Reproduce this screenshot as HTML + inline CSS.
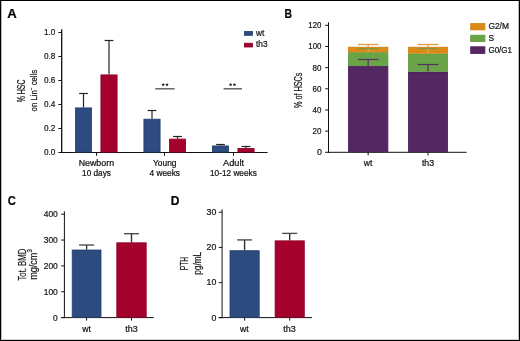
<!DOCTYPE html>
<html><head><meta charset="utf-8"><style>
html,body{margin:0;padding:0;background:#fff;width:520px;height:341px;overflow:hidden;}
svg{display:block;will-change:transform;}
text{font-family:"Liberation Sans",sans-serif;stroke:#141414;stroke-width:0.22px;}
</style></head><body>
<svg width="520" height="341" viewBox="0 0 520 341">
<rect x="0" y="0" width="520" height="341" fill="#fff"/>
<text x="7.30" y="18.20" font-size="12" textLength="9.5" lengthAdjust="spacingAndGlyphs" font-weight="bold" fill="#000">A</text>
<line x1="61.70" y1="29.30" x2="61.70" y2="153.10" stroke="#111" stroke-width="1.3"/>
<line x1="61.10" y1="152.50" x2="267.60" y2="152.50" stroke="#111" stroke-width="1.0"/>
<line x1="58.40" y1="152.50" x2="61.70" y2="152.50" stroke="#111" stroke-width="1.0"/>
<text x="55.40" y="155.45" font-size="9.2" text-anchor="end" textLength="11.4" lengthAdjust="spacingAndGlyphs" fill="#141414">0.0</text>
<line x1="58.40" y1="128.50" x2="61.70" y2="128.50" stroke="#111" stroke-width="1.0"/>
<text x="55.40" y="131.45" font-size="9.2" text-anchor="end" textLength="11.4" lengthAdjust="spacingAndGlyphs" fill="#141414">0.2</text>
<line x1="58.40" y1="104.50" x2="61.70" y2="104.50" stroke="#111" stroke-width="1.0"/>
<text x="55.40" y="107.45" font-size="9.2" text-anchor="end" textLength="11.4" lengthAdjust="spacingAndGlyphs" fill="#141414">0.4</text>
<line x1="58.40" y1="80.50" x2="61.70" y2="80.50" stroke="#111" stroke-width="1.0"/>
<text x="55.40" y="83.45" font-size="9.2" text-anchor="end" textLength="11.4" lengthAdjust="spacingAndGlyphs" fill="#141414">0.6</text>
<line x1="58.40" y1="56.50" x2="61.70" y2="56.50" stroke="#111" stroke-width="1.0"/>
<text x="55.40" y="59.45" font-size="9.2" text-anchor="end" textLength="11.4" lengthAdjust="spacingAndGlyphs" fill="#141414">0.8</text>
<line x1="58.40" y1="32.50" x2="61.70" y2="32.50" stroke="#111" stroke-width="1.0"/>
<text x="55.40" y="35.45" font-size="9.2" text-anchor="end" textLength="11.4" lengthAdjust="spacingAndGlyphs" fill="#141414">1.0</text>
<line x1="83.50" y1="93.50" x2="83.50" y2="107.50" stroke="#262626" stroke-width="1.2"/>
<line x1="79.10" y1="93.50" x2="87.90" y2="93.50" stroke="#262626" stroke-width="1.2"/>
<line x1="109.00" y1="40.50" x2="109.00" y2="74.50" stroke="#262626" stroke-width="1.2"/>
<line x1="104.60" y1="40.50" x2="113.40" y2="40.50" stroke="#262626" stroke-width="1.2"/>
<rect x="75.40" y="107.90" width="16.20" height="44.20" fill="#2e4b7f" stroke="#233e70" stroke-width="0.8"/>
<rect x="100.90" y="74.90" width="16.20" height="77.20" fill="#a4022c" stroke="#900126" stroke-width="0.8"/>
<line x1="96.50" y1="152.50" x2="96.50" y2="155.80" stroke="#111" stroke-width="1.0"/>
<line x1="152.00" y1="110.50" x2="152.00" y2="118.78" stroke="#262626" stroke-width="1.2"/>
<line x1="147.60" y1="110.50" x2="156.40" y2="110.50" stroke="#262626" stroke-width="1.2"/>
<line x1="177.50" y1="136.50" x2="177.50" y2="138.70" stroke="#262626" stroke-width="1.2"/>
<line x1="173.10" y1="136.50" x2="181.90" y2="136.50" stroke="#262626" stroke-width="1.2"/>
<rect x="143.90" y="119.18" width="16.20" height="32.92" fill="#2e4b7f" stroke="#233e70" stroke-width="0.8"/>
<rect x="169.40" y="139.10" width="16.20" height="13.00" fill="#a4022c" stroke="#900126" stroke-width="0.8"/>
<line x1="164.50" y1="152.50" x2="164.50" y2="155.80" stroke="#111" stroke-width="1.0"/>
<line x1="220.50" y1="144.50" x2="220.50" y2="145.54" stroke="#262626" stroke-width="1.2"/>
<line x1="216.10" y1="144.50" x2="224.90" y2="144.50" stroke="#262626" stroke-width="1.2"/>
<line x1="246.00" y1="146.50" x2="246.00" y2="148.00" stroke="#262626" stroke-width="1.2"/>
<line x1="241.60" y1="146.50" x2="250.40" y2="146.50" stroke="#262626" stroke-width="1.2"/>
<rect x="212.40" y="145.94" width="16.20" height="6.16" fill="#2e4b7f" stroke="#233e70" stroke-width="0.8"/>
<rect x="237.90" y="148.40" width="16.20" height="3.70" fill="#a4022c" stroke="#900126" stroke-width="0.8"/>
<line x1="233.50" y1="152.50" x2="233.50" y2="155.80" stroke="#111" stroke-width="1.0"/>
<text x="96.40" y="165.80" font-size="8.3" text-anchor="middle" textLength="35.4" lengthAdjust="spacingAndGlyphs" fill="#141414">Newborn</text>
<text x="96.50" y="175.60" font-size="8.3" text-anchor="middle" textLength="28.9" lengthAdjust="spacingAndGlyphs" fill="#141414">10 days</text>
<text x="164.75" y="165.80" font-size="8.3" text-anchor="middle" textLength="23.5" lengthAdjust="spacingAndGlyphs" fill="#141414">Young</text>
<text x="164.75" y="175.60" font-size="8.3" text-anchor="middle" textLength="30.5" lengthAdjust="spacingAndGlyphs" fill="#141414">4 weeks</text>
<text x="233.50" y="165.80" font-size="8.3" text-anchor="middle" textLength="21" lengthAdjust="spacingAndGlyphs" fill="#141414">Adult</text>
<text x="233.40" y="175.60" font-size="8.3" text-anchor="middle" textLength="46.75" lengthAdjust="spacingAndGlyphs" fill="#141414">10-12 weeks</text>
<line x1="155.30" y1="88.80" x2="174.60" y2="88.80" stroke="#5a5a5a" stroke-width="1.4"/>
<polygon points="163.20,82.80 163.70,84.01 165.01,84.11 164.01,84.96 164.32,86.24 163.20,85.56 162.08,86.24 162.39,84.96 161.39,84.11 162.70,84.01" fill="#222"/>
<polygon points="167.00,82.80 167.50,84.01 168.81,84.11 167.81,84.96 168.12,86.24 167.00,85.56 165.88,86.24 166.19,84.96 165.19,84.11 166.50,84.01" fill="#222"/>
<line x1="223.60" y1="88.80" x2="242.00" y2="88.80" stroke="#5a5a5a" stroke-width="1.4"/>
<polygon points="230.60,82.80 231.10,84.01 232.41,84.11 231.41,84.96 231.72,86.24 230.60,85.56 229.48,86.24 229.79,84.96 228.79,84.11 230.10,84.01" fill="#222"/>
<polygon points="234.50,82.80 235.00,84.01 236.31,84.11 235.31,84.96 235.62,86.24 234.50,85.56 233.38,86.24 233.69,84.96 232.69,84.11 234.00,84.01" fill="#222"/>
<rect x="244.40" y="31.40" width="8.20" height="3.90" fill="#2e4b7f" stroke="#233e70" stroke-width="0.8"/>
<rect x="244.40" y="43.20" width="8.20" height="3.80" fill="#a4022c" stroke="#900126" stroke-width="0.8"/>
<text x="256.00" y="36.00" font-size="8.3" fill="#141414">wt</text>
<text x="256.00" y="47.40" font-size="8.3" fill="#141414">th3</text>
<text transform="translate(25.4,90.9) rotate(-90)" font-size="10.6" text-anchor="middle" textLength="22.6" lengthAdjust="spacingAndGlyphs" fill="#141414">% HSC</text>
<text transform="translate(36.6,90.6) rotate(-90)" font-size="8.4" text-anchor="middle" textLength="41.6" lengthAdjust="spacingAndGlyphs" fill="#141414">on Lin<tspan font-size="5" dy="-3.2">−</tspan><tspan dy="3.2"> cells</tspan></text>
<text x="284.50" y="17.90" font-size="12" textLength="7.5" lengthAdjust="spacingAndGlyphs" font-weight="bold" fill="#000">B</text>
<line x1="328.50" y1="22.30" x2="328.50" y2="152.90" stroke="#111" stroke-width="1.0"/>
<line x1="327.90" y1="152.30" x2="466.60" y2="152.30" stroke="#111" stroke-width="1.0"/>
<line x1="325.20" y1="152.30" x2="328.50" y2="152.30" stroke="#111" stroke-width="1.0"/>
<text x="322.00" y="155.25" font-size="9.2" text-anchor="end" textLength="5.0" lengthAdjust="spacingAndGlyphs" fill="#141414">0</text>
<line x1="325.20" y1="131.13" x2="328.50" y2="131.13" stroke="#111" stroke-width="1.0"/>
<text x="321.50" y="134.08" font-size="9.2" text-anchor="end" textLength="8.9" lengthAdjust="spacingAndGlyphs" fill="#141414">20</text>
<line x1="325.20" y1="109.97" x2="328.50" y2="109.97" stroke="#111" stroke-width="1.0"/>
<text x="321.50" y="112.92" font-size="9.2" text-anchor="end" textLength="8.9" lengthAdjust="spacingAndGlyphs" fill="#141414">40</text>
<line x1="325.20" y1="88.80" x2="328.50" y2="88.80" stroke="#111" stroke-width="1.0"/>
<text x="321.50" y="91.75" font-size="9.2" text-anchor="end" textLength="8.9" lengthAdjust="spacingAndGlyphs" fill="#141414">60</text>
<line x1="325.20" y1="67.63" x2="328.50" y2="67.63" stroke="#111" stroke-width="1.0"/>
<text x="321.50" y="70.58" font-size="9.2" text-anchor="end" textLength="8.9" lengthAdjust="spacingAndGlyphs" fill="#141414">80</text>
<line x1="325.20" y1="46.47" x2="328.50" y2="46.47" stroke="#111" stroke-width="1.0"/>
<text x="321.50" y="49.42" font-size="9.2" text-anchor="end" textLength="13.2" lengthAdjust="spacingAndGlyphs" fill="#141414">100</text>
<line x1="325.20" y1="25.30" x2="328.50" y2="25.30" stroke="#111" stroke-width="1.0"/>
<text x="321.50" y="28.25" font-size="9.2" text-anchor="end" textLength="13.2" lengthAdjust="spacingAndGlyphs" fill="#141414">120</text>
<rect x="348.40" y="66.20" width="39.50" height="85.70" fill="#542763" stroke="#461d54" stroke-width="0.8"/>
<rect x="348.40" y="52.70" width="39.50" height="12.70" fill="#69a546" stroke="#5c963c" stroke-width="0.8"/>
<rect x="348.40" y="47.20" width="39.50" height="4.70" fill="#dc8a17" stroke="#cf7e10" stroke-width="0.8"/>
<line x1="368.15" y1="59.50" x2="368.15" y2="65.80" stroke="#5a2d64" stroke-width="1.2"/>
<line x1="357.85" y1="59.50" x2="378.45" y2="59.50" stroke="#5a2d64" stroke-width="1.2"/>
<line x1="368.15" y1="48.50" x2="368.15" y2="52.30" stroke="#7a9a40" stroke-width="1.2"/>
<line x1="357.85" y1="48.50" x2="378.45" y2="48.50" stroke="#7a9a40" stroke-width="1.2"/>
<line x1="368.15" y1="49.10" x2="368.15" y2="52.30" stroke="#f2a94a" stroke-width="1.2"/>
<line x1="368.15" y1="44.50" x2="368.15" y2="46.80" stroke="#e3963a" stroke-width="1.2"/>
<line x1="357.85" y1="44.50" x2="378.45" y2="44.50" stroke="#e3963a" stroke-width="1.2"/>
<line x1="368.15" y1="152.30" x2="368.15" y2="155.30" stroke="#111" stroke-width="1.0"/>
<rect x="408.40" y="72.00" width="39.20" height="79.90" fill="#542763" stroke="#461d54" stroke-width="0.8"/>
<rect x="408.40" y="54.00" width="39.20" height="17.20" fill="#69a546" stroke="#5c963c" stroke-width="0.8"/>
<rect x="408.40" y="47.20" width="39.20" height="6.00" fill="#dc8a17" stroke="#cf7e10" stroke-width="0.8"/>
<line x1="428.00" y1="64.50" x2="428.00" y2="71.60" stroke="#5a2d64" stroke-width="1.2"/>
<line x1="417.70" y1="64.50" x2="438.30" y2="64.50" stroke="#5a2d64" stroke-width="1.2"/>
<line x1="428.00" y1="48.50" x2="428.00" y2="53.60" stroke="#7a9a40" stroke-width="1.2"/>
<line x1="417.70" y1="48.50" x2="438.30" y2="48.50" stroke="#7a9a40" stroke-width="1.2"/>
<line x1="428.00" y1="49.10" x2="428.00" y2="53.60" stroke="#f2a94a" stroke-width="1.2"/>
<line x1="428.00" y1="44.50" x2="428.00" y2="46.80" stroke="#e3963a" stroke-width="1.2"/>
<line x1="417.70" y1="44.50" x2="438.30" y2="44.50" stroke="#e3963a" stroke-width="1.2"/>
<line x1="428.00" y1="152.30" x2="428.00" y2="155.30" stroke="#111" stroke-width="1.0"/>
<text x="368.00" y="165.80" font-size="8.3" text-anchor="middle" textLength="8.6" lengthAdjust="spacingAndGlyphs" fill="#141414">wt</text>
<text x="428.00" y="165.80" font-size="8.3" text-anchor="middle" textLength="12.2" lengthAdjust="spacingAndGlyphs" fill="#141414">th3</text>
<rect x="470.70" y="23.60" width="14.20" height="6.30" fill="#dc8a17" stroke="#cf7e10" stroke-width="0.8"/>
<rect x="470.70" y="35.20" width="14.20" height="6.30" fill="#69a546" stroke="#5c963c" stroke-width="0.8"/>
<rect x="470.70" y="46.80" width="14.20" height="6.70" fill="#542763" stroke="#461d54" stroke-width="0.8"/>
<text x="488.40" y="29.30" font-size="8.3" textLength="20.6" lengthAdjust="spacingAndGlyphs" fill="#141414">G2/M</text>
<text x="488.40" y="41.10" font-size="8.3" fill="#141414">S</text>
<text x="488.40" y="53.20" font-size="8.3" textLength="23.7" lengthAdjust="spacingAndGlyphs" fill="#141414">G0/G1</text>
<text transform="translate(301.8,90.3) rotate(-90)" font-size="10.8" text-anchor="middle" textLength="35.5" lengthAdjust="spacingAndGlyphs" fill="#141414">% of HSCs</text>
<text x="7.80" y="205.20" font-size="12.8" textLength="8.1" lengthAdjust="spacingAndGlyphs" font-weight="bold" fill="#000">C</text>
<line x1="64.40" y1="211.40" x2="64.40" y2="318.20" stroke="#111" stroke-width="1.0"/>
<line x1="61.50" y1="317.60" x2="153.80" y2="317.60" stroke="#111" stroke-width="1.0"/>
<line x1="61.20" y1="317.60" x2="64.40" y2="317.60" stroke="#111" stroke-width="1.0"/>
<text x="57.80" y="320.55" font-size="9.2" text-anchor="end" textLength="4.7" lengthAdjust="spacingAndGlyphs" fill="#141414">0</text>
<line x1="61.20" y1="291.75" x2="64.40" y2="291.75" stroke="#111" stroke-width="1.0"/>
<text x="57.80" y="294.55" font-size="9.2" text-anchor="end" textLength="14.1" lengthAdjust="spacingAndGlyphs" fill="#141414">100</text>
<line x1="61.20" y1="265.90" x2="64.40" y2="265.90" stroke="#111" stroke-width="1.0"/>
<text x="57.80" y="268.55" font-size="9.2" text-anchor="end" textLength="14.1" lengthAdjust="spacingAndGlyphs" fill="#141414">200</text>
<line x1="61.20" y1="240.05" x2="64.40" y2="240.05" stroke="#111" stroke-width="1.0"/>
<text x="57.80" y="242.55" font-size="9.2" text-anchor="end" textLength="14.1" lengthAdjust="spacingAndGlyphs" fill="#141414">300</text>
<line x1="61.20" y1="214.20" x2="64.40" y2="214.20" stroke="#111" stroke-width="1.0"/>
<text x="57.80" y="216.55" font-size="9.2" text-anchor="end" textLength="14.1" lengthAdjust="spacingAndGlyphs" fill="#141414">400</text>
<line x1="86.60" y1="245.01" x2="86.60" y2="249.61" stroke="#2e2e2e" stroke-width="1.35"/>
<line x1="79.10" y1="245.01" x2="94.10" y2="245.01" stroke="#4a4a4a" stroke-width="1.35"/>
<rect x="72.20" y="250.01" width="28.80" height="67.19" fill="#2e4b7f" stroke="#233e70" stroke-width="0.8"/>
<line x1="86.60" y1="317.60" x2="86.60" y2="320.60" stroke="#111" stroke-width="1.0"/>
<line x1="131.50" y1="233.70" x2="131.50" y2="242.41" stroke="#2e2e2e" stroke-width="1.35"/>
<line x1="124.00" y1="233.70" x2="139.00" y2="233.70" stroke="#4a4a4a" stroke-width="1.35"/>
<rect x="116.80" y="242.81" width="29.40" height="74.39" fill="#a4022c" stroke="#900126" stroke-width="0.8"/>
<line x1="131.50" y1="317.60" x2="131.50" y2="320.60" stroke="#111" stroke-width="1.0"/>
<text x="86.50" y="331.80" font-size="8.3" text-anchor="middle" textLength="8.7" lengthAdjust="spacingAndGlyphs" fill="#141414">wt</text>
<text x="131.60" y="331.80" font-size="8.3" text-anchor="middle" textLength="12.5" lengthAdjust="spacingAndGlyphs" fill="#141414">th3</text>
<text transform="translate(25.5,264.6) rotate(-90)" font-size="10.8" text-anchor="middle" textLength="31.8" lengthAdjust="spacingAndGlyphs" fill="#141414">Tot. BMD</text>
<text transform="translate(36.9,264.5) rotate(-90)" font-size="10.2" text-anchor="middle" textLength="30.6" lengthAdjust="spacingAndGlyphs" fill="#141414">mg/cm<tspan font-size="6.8" dy="-4.8">3</tspan></text>
<text x="170.70" y="205.00" font-size="12" textLength="8.7" lengthAdjust="spacingAndGlyphs" font-weight="bold" fill="#000">D</text>
<line x1="222.10" y1="209.30" x2="222.10" y2="318.20" stroke="#111" stroke-width="1.0"/>
<line x1="218.50" y1="317.60" x2="312.00" y2="317.60" stroke="#111" stroke-width="1.0"/>
<line x1="218.80" y1="317.60" x2="222.10" y2="317.60" stroke="#111" stroke-width="1.0"/>
<text x="216.30" y="320.55" font-size="9.2" text-anchor="end" textLength="4.9" lengthAdjust="spacingAndGlyphs" fill="#141414">0</text>
<line x1="218.80" y1="282.67" x2="222.10" y2="282.67" stroke="#111" stroke-width="1.0"/>
<text x="216.30" y="285.32" font-size="9.2" text-anchor="end" textLength="9.8" lengthAdjust="spacingAndGlyphs" fill="#141414">10</text>
<line x1="218.80" y1="247.43" x2="222.10" y2="247.43" stroke="#111" stroke-width="1.0"/>
<text x="216.30" y="250.08" font-size="9.2" text-anchor="end" textLength="9.8" lengthAdjust="spacingAndGlyphs" fill="#141414">20</text>
<line x1="218.80" y1="212.20" x2="222.10" y2="212.20" stroke="#111" stroke-width="1.0"/>
<text x="216.30" y="214.85" font-size="9.2" text-anchor="end" textLength="9.8" lengthAdjust="spacingAndGlyphs" fill="#141414">30</text>
<line x1="244.60" y1="239.91" x2="244.60" y2="250.30" stroke="#2e2e2e" stroke-width="1.35"/>
<line x1="237.10" y1="239.91" x2="252.10" y2="239.91" stroke="#4a4a4a" stroke-width="1.35"/>
<rect x="230.00" y="250.70" width="29.20" height="66.50" fill="#2e4b7f" stroke="#233e70" stroke-width="0.8"/>
<line x1="244.60" y1="317.60" x2="244.60" y2="320.60" stroke="#111" stroke-width="1.0"/>
<line x1="289.70" y1="233.39" x2="289.70" y2="240.44" stroke="#2e2e2e" stroke-width="1.35"/>
<line x1="282.20" y1="233.39" x2="297.20" y2="233.39" stroke="#4a4a4a" stroke-width="1.35"/>
<rect x="275.10" y="240.84" width="29.20" height="76.36" fill="#a4022c" stroke="#900126" stroke-width="0.8"/>
<line x1="289.70" y1="317.60" x2="289.70" y2="320.60" stroke="#111" stroke-width="1.0"/>
<text x="244.40" y="332.20" font-size="8.3" text-anchor="middle" textLength="8.7" lengthAdjust="spacingAndGlyphs" fill="#141414">wt</text>
<text x="289.60" y="332.20" font-size="8.3" text-anchor="middle" textLength="12.5" lengthAdjust="spacingAndGlyphs" fill="#141414">th3</text>
<text transform="translate(188.0,263.5) rotate(-90)" font-size="11" text-anchor="middle" textLength="13.4" lengthAdjust="spacingAndGlyphs" fill="#141414">PTH</text>
<text transform="translate(200.6,263.3) rotate(-90)" font-size="10.4" text-anchor="middle" textLength="23" lengthAdjust="spacingAndGlyphs" fill="#141414">pg/mL</text>
<rect x="1" y="1" width="1" height="339" fill="#b8b8b8"/>
<rect x="518" y="1" width="1" height="339" fill="#bcbcbc"/>
<rect x="1" y="339" width="518" height="1" fill="#d4d4d4"/>
<rect x="0.5" y="0.5" width="519" height="340" fill="none" stroke="#000" stroke-width="1"/>
</svg>
</body></html>
